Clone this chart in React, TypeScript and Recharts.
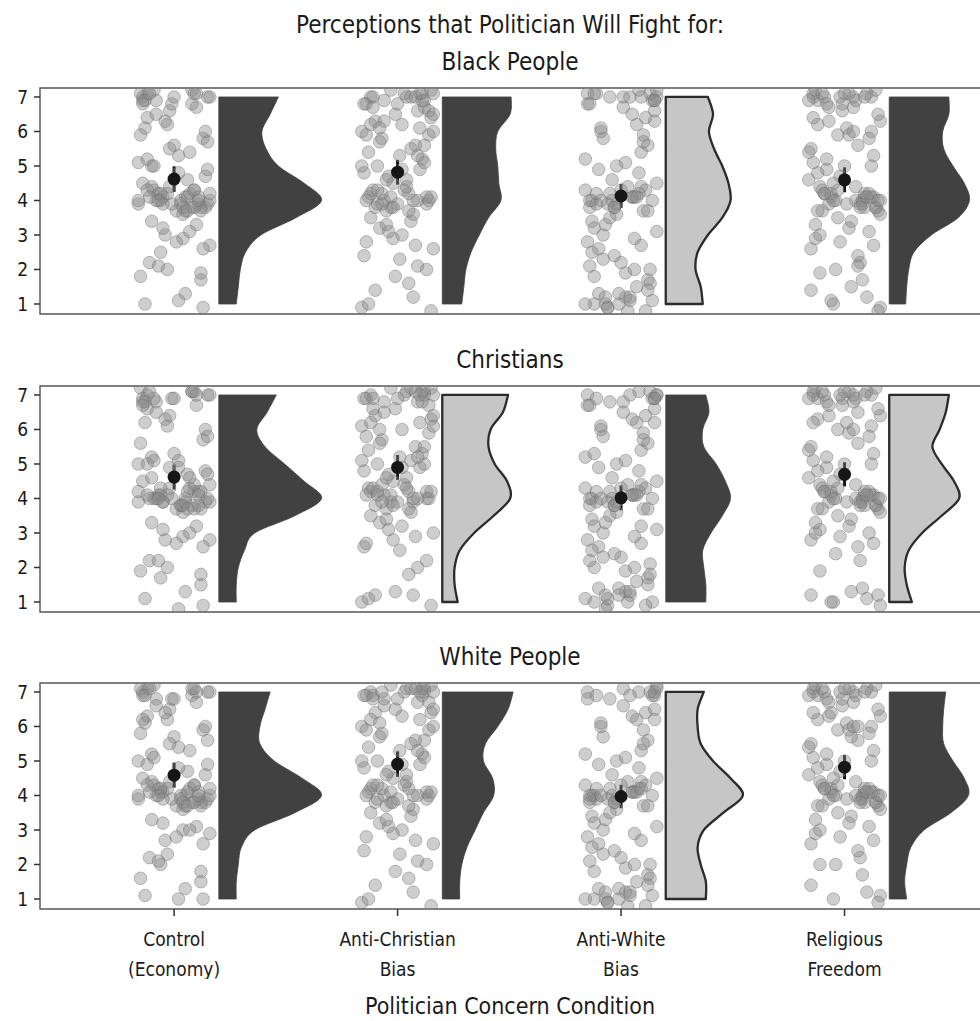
import React from 'react';
import { ComposedChart, Scatter, XAxis, YAxis, ReferenceArea, ErrorBar } from 'recharts';

const FONT = "'Liberation Sans Narrow', 'DejaVu Sans Condensed', 'Liberation Sans', sans-serif";

const conditionLabels = [
  ['Control', '(Economy)'],
  ['Anti-Christian', 'Bias'],
  ['Anti-White', 'Bias'],
  ['Religious', 'Freedom'],
];
const conditionPositions = [1, 2, 3, 4];
const targetGroups = ['Black People', 'Christians', 'White People'];
const yTicks = [1, 2, 3, 4, 5, 6, 7];
const densityLevels = [7, 6.5, 6, 5.5, 5, 4.5, 4, 3.5, 3, 2.5, 2, 1.5, 1];

// condition order: Control, Anti-Christian, Anti-White, Religious Freedom
const blackMeans = [4.62, 4.82, 4.13, 4.6];
const christianMeans = [4.62, 4.9, 4.02, 4.7];
const whiteMeans = [4.59, 4.91, 3.97, 4.82];
const blackSE = [0.37, 0.36, 0.35, 0.36];
const christianSE = [0.36, 0.36, 0.36, 0.35];
const whiteSE = [0.36, 0.37, 0.34, 0.35];

// light-filled half violins
const blackHighlight = [false, false, true, false];
const christianHighlight = [false, true, false, true];
const whiteHighlight = [false, false, true, false];

// relative density at densityLevels (peak = 1)
const blackDensity = [
  [0.58, 0.5, 0.42, 0.46, 0.58, 0.83, 1.0, 0.75, 0.41, 0.26, 0.21, 0.19, 0.17],
  [0.67, 0.66, 0.54, 0.52, 0.54, 0.55, 0.57, 0.45, 0.36, 0.28, 0.23, 0.21, 0.19],
  [0.41, 0.46, 0.42, 0.47, 0.55, 0.61, 0.63, 0.55, 0.41, 0.31, 0.29, 0.34, 0.36],
  [0.58, 0.58, 0.52, 0.53, 0.62, 0.73, 0.78, 0.67, 0.41, 0.24, 0.19, 0.17, 0.16],
];
const christianDensity = [
  [0.56, 0.47, 0.37, 0.45, 0.64, 0.83, 1.0, 0.74, 0.35, 0.25, 0.19, 0.17, 0.17],
  [0.64, 0.59, 0.47, 0.45, 0.51, 0.63, 0.66, 0.5, 0.31, 0.17, 0.12, 0.12, 0.15],
  [0.39, 0.42, 0.36, 0.37, 0.49, 0.58, 0.63, 0.55, 0.44, 0.36, 0.37, 0.39, 0.39],
  [0.58, 0.55, 0.49, 0.42, 0.51, 0.63, 0.68, 0.51, 0.32, 0.19, 0.15, 0.17, 0.22],
];
const whiteDensity = [
  [0.5, 0.45, 0.4, 0.4, 0.54, 0.81, 1.0, 0.74, 0.35, 0.22, 0.19, 0.17, 0.17],
  [0.69, 0.64, 0.54, 0.42, 0.4, 0.49, 0.5, 0.4, 0.32, 0.24, 0.19, 0.17, 0.17],
  [0.37, 0.31, 0.31, 0.34, 0.46, 0.63, 0.75, 0.56, 0.37, 0.31, 0.34, 0.39, 0.39],
  [0.55, 0.53, 0.52, 0.53, 0.62, 0.73, 0.77, 0.6, 0.34, 0.21, 0.17, 0.15, 0.17],
];

// horizontal jitter of the raw ratings around each condition
const jitterX = [
  -0.12, 0.05, 0.14, -0.03, 0.09, -0.15, 0.02, 0.11, -0.08, 0.16,
  -0.06, 0.07, -0.14, 0.01, 0.13, -0.1, 0.04, -0.02, 0.15, -0.13,
  0.08, -0.05, 0.12, -0.16, 0.03, 0.1, -0.09, 0.06, -0.11, 0.14,
  -0.01, 0.09, -0.15, 0.0, 0.12, -0.07, 0.05, -0.12, 0.16, -0.04,
  0.02, -0.14, 0.11, -0.06, 0.08, -0.1, 0.15, -0.02, 0.04, -0.13,
  0.13, -0.08, 0.07, -0.16, 0.1, -0.03, 0.01, -0.11, 0.14, -0.05,
  0.06, -0.15, 0.09, -0.01, 0.12, -0.09, 0.03, -0.12, 0.16, -0.07,
  0.11, -0.04, 0.05, -0.14, 0.08, -0.1, 0.15, -0.06, 0.02, -0.13,
  0.04, -0.11, 0.13, -0.02, 0.1, -0.16, 0.07, -0.08, 0.15, -0.05,
  0.0, -0.12, 0.12, -0.09, 0.06, -0.14, 0.16, -0.03, 0.09, -0.07,
];

const blackRatings = [
  [7.1, 4.1, 3.8, 6.2, 4.3, 1.8, 5.3, 3.9, 6.9, 2.7, 4.0, 4.2, 7.0, 3.7, 5.8, 4.4, 2.9, 6.6, 3.9, 1.0,
   6.8, 4.1, 3.8, 5.1, 4.0, 3.3, 7.2, 4.6, 2.2, 6.0, 3.9, 4.3, 7.1, 5.6, 3.7, 4.2, 1.3, 6.4, 4.0, 3.0,
   4.8, 6.9, 4.1, 2.5, 3.8, 5.0, 7.0, 4.4, 3.6, 6.1, 0.9, 4.0, 5.4, 3.9, 6.7, 4.2, 2.8, 7.1, 4.7, 3.2,
   4.1, 5.9, 3.8, 6.8, 1.7, 4.3, 3.9, 5.2, 7.0, 2.1, 4.0, 6.3, 3.7, 4.5, 7.2, 3.4, 5.7, 4.2, 1.1, 6.9,
   3.8, 4.1, 2.6, 5.5, 7.1, 4.0, 3.1, 6.5, 4.9, 3.9, 7.0, 4.3, 1.9, 5.0, 3.7, 6.8, 4.2, 2.0, 7.1, 4.0],
  [7.0, 4.2, 5.9, 3.8, 6.6, 2.4, 4.9, 7.1, 3.2, 6.0, 4.0, 1.2, 6.8, 5.3, 3.9, 6.3, 4.6, 2.9, 7.2, 4.1,
   5.6, 3.7, 6.9, 0.9, 4.3, 6.1, 5.0, 3.4, 7.0, 4.0, 6.5, 2.1, 4.8, 3.9, 6.7, 5.8, 1.6, 4.2, 7.1, 3.1,
   6.2, 4.0, 5.2, 6.9, 2.7, 3.8, 6.4, 4.5, 7.0, 1.0, 4.1, 5.7, 3.6, 6.0, 4.9, 7.2, 2.3, 4.3, 6.6, 3.3,
   5.5, 6.8, 4.0, 1.8, 5.1, 3.9, 7.1, 6.2, 2.6, 4.2, 6.9, 4.7, 3.7, 5.9, 7.0, 1.4, 4.1, 6.3, 3.0, 5.4,
   4.4, 6.7, 2.0, 3.8, 7.1, 5.0, 4.0, 6.1, 0.8, 4.6, 6.8, 3.5, 5.6, 4.3, 7.0, 2.8, 6.5, 4.1, 5.3, 3.9],
  [1.0, 4.1, 6.9, 3.8, 2.7, 7.1, 1.2, 4.3, 5.8, 3.1, 0.9, 6.2, 4.0, 7.0, 2.0, 4.9, 1.1, 3.9, 6.6, 3.4,
   7.2, 4.2, 1.7, 5.2, 0.8, 3.7, 6.0, 2.9, 7.1, 4.0, 1.3, 4.4, 6.8, 2.2, 5.6, 1.0, 4.1, 3.2, 7.0, 4.6,
   1.9, 3.8, 6.4, 0.9, 4.2, 2.6, 6.9, 5.0, 1.2, 4.0, 7.1, 3.0, 1.5, 4.3, 5.9, 2.4, 6.7, 3.9, 1.1, 7.0,
   4.1, 2.8, 5.4, 1.0, 3.7, 6.1, 4.4, 1.8, 7.2, 3.3, 0.8, 4.0, 6.5, 2.1, 4.8, 1.3, 6.9, 3.9, 5.1, 2.5,
   7.0, 4.2, 1.6, 3.6, 5.7, 1.0, 4.1, 2.3, 6.3, 3.5, 4.3, 7.1, 1.4, 4.0, 2.0, 6.8, 4.5, 3.8, 7.0, 1.2],
  [6.9, 4.0, 3.8, 5.9, 4.2, 1.4, 7.1, 3.1, 4.9, 6.3, 4.1, 2.2, 7.0, 3.9, 5.3, 4.3, 6.7, 2.8, 3.7, 7.2,
   4.0, 1.0, 6.0, 4.6, 3.4, 7.1, 4.2, 5.6, 1.9, 3.8, 6.8, 4.1, 2.6, 5.0, 7.0, 3.9, 4.4, 6.2, 0.9, 4.0,
   3.2, 7.1, 5.8, 4.2, 1.7, 3.7, 6.5, 4.7, 7.0, 2.9, 4.1, 5.2, 3.9, 6.9, 1.2, 4.3, 6.1, 3.0, 7.2, 4.0,
   2.4, 5.5, 3.8, 6.6, 4.1, 7.0, 1.5, 4.8, 3.6, 6.3, 4.2, 2.0, 6.9, 5.1, 3.9, 7.1, 4.0, 1.1, 5.9, 3.3,
   6.0, 4.4, 2.7, 7.0, 4.1, 5.4, 3.8, 6.8, 0.8, 4.5, 7.1, 3.7, 5.0, 4.2, 2.1, 6.4, 4.0, 3.5, 7.0, 6.7],
];

const christianRatings = [
  [7.0, 4.0, 3.9, 6.1, 4.2, 1.9, 5.1, 3.8, 6.8, 2.8, 4.1, 4.3, 6.9, 3.7, 5.7, 4.6, 2.9, 6.4, 4.0, 1.1,
   7.1, 3.9, 4.2, 5.0, 3.8, 3.2, 6.9, 4.7, 2.2, 6.0, 4.0, 4.4, 7.2, 5.3, 3.7, 4.1, 1.3, 6.6, 3.9, 2.8,
   4.9, 6.8, 4.2, 1.7, 3.8, 5.2, 7.0, 4.3, 3.6, 6.2, 0.9, 4.0, 4.6, 3.9, 6.7, 4.1, 2.7, 7.1, 4.8, 3.1,
   4.2, 5.6, 3.7, 6.9, 1.8, 4.0, 3.8, 5.0, 7.0, 2.2, 4.1, 6.3, 3.9, 4.5, 7.1, 3.3, 5.8, 4.3, 0.8, 6.8,
   3.8, 4.0, 2.6, 4.9, 7.0, 4.2, 3.0, 6.5, 4.7, 3.9, 6.9, 4.1, 1.5, 5.1, 3.7, 6.7, 4.4, 2.0, 7.1, 4.0],
  [7.0, 4.2, 5.9, 3.9, 6.8, 2.6, 4.9, 7.1, 3.3, 6.1, 4.1, 1.2, 6.9, 5.2, 4.0, 6.4, 4.6, 2.8, 7.2, 4.3,
   5.5, 3.7, 7.0, 1.0, 4.4, 6.2, 5.0, 3.6, 6.9, 4.0, 6.6, 2.0, 4.8, 3.9, 7.1, 5.7, 1.8, 4.2, 7.0, 3.1,
   6.0, 4.1, 5.3, 6.8, 2.9, 3.8, 6.3, 4.5, 7.1, 1.1, 4.2, 5.6, 3.9, 6.1, 4.9, 7.2, 2.5, 4.3, 6.7, 3.4,
   5.1, 6.9, 4.0, 1.3, 5.0, 4.1, 7.0, 6.2, 3.0, 4.4, 6.8, 4.7, 3.7, 5.8, 7.1, 1.2, 4.2, 6.5, 3.2, 5.4,
   4.3, 6.6, 2.2, 3.8, 7.0, 5.1, 4.0, 6.0, 0.9, 4.6, 6.9, 3.5, 5.5, 4.2, 7.2, 2.7, 6.4, 4.1, 5.2, 3.9],
  [1.0, 4.1, 6.9, 3.8, 2.7, 7.0, 1.3, 4.3, 5.8, 3.1, 0.9, 6.2, 4.0, 6.8, 2.1, 4.9, 1.2, 3.9, 6.6, 3.4,
   7.1, 4.2, 1.7, 5.2, 1.0, 3.7, 6.0, 2.9, 6.9, 4.0, 1.4, 4.4, 6.7, 2.3, 5.6, 0.8, 4.1, 3.2, 7.0, 4.6,
   1.9, 3.8, 6.4, 1.1, 4.2, 2.6, 6.9, 5.0, 1.3, 4.0, 7.1, 3.0, 1.6, 4.3, 5.9, 2.4, 6.5, 3.9, 1.0, 6.8,
   4.1, 2.8, 5.4, 1.2, 3.7, 6.1, 4.4, 2.0, 7.0, 3.3, 0.9, 4.0, 6.3, 2.2, 4.8, 1.4, 6.9, 3.9, 5.1, 2.5,
   7.0, 4.2, 1.8, 3.6, 5.7, 1.1, 4.1, 2.3, 6.2, 3.5, 4.3, 5.3, 1.5, 4.0, 2.0, 6.7, 4.5, 3.8, 3.2, 1.2],
  [6.9, 4.0, 3.8, 6.0, 4.2, 1.2, 7.1, 3.0, 4.9, 6.4, 4.1, 2.2, 7.0, 3.9, 5.3, 4.3, 6.8, 2.9, 3.7, 7.2,
   4.0, 1.0, 6.1, 4.6, 3.4, 7.1, 4.2, 5.6, 1.9, 3.8, 6.9, 4.1, 2.8, 5.0, 7.0, 3.9, 4.4, 6.3, 0.9, 4.0,
   3.2, 7.1, 5.8, 4.2, 1.4, 3.7, 6.6, 4.7, 7.0, 3.0, 4.1, 5.2, 3.9, 6.9, 1.1, 4.3, 6.2, 3.1, 7.2, 4.0,
   2.6, 5.5, 3.8, 6.7, 4.1, 7.0, 1.3, 4.8, 3.6, 6.4, 4.2, 2.4, 6.9, 5.1, 3.9, 7.1, 4.0, 1.0, 5.9, 3.3,
   6.0, 4.4, 2.7, 7.0, 4.1, 5.4, 3.8, 6.8, 1.2, 4.5, 7.1, 3.7, 5.0, 4.2, 6.5, 6.2, 4.0, 3.5, 7.0, 6.7],
];

const whiteRatings = [
  [7.1, 4.0, 3.8, 6.2, 4.3, 1.6, 5.4, 3.9, 6.8, 2.9, 4.1, 4.2, 7.0, 3.7, 5.9, 4.4, 3.0, 6.5, 3.9, 1.1,
   6.9, 4.1, 3.8, 5.0, 4.0, 3.1, 7.2, 4.7, 2.2, 6.0, 3.9, 4.3, 7.1, 5.7, 3.7, 4.2, 1.3, 6.3, 4.0, 2.7,
   4.8, 6.9, 4.1, 2.0, 3.8, 5.2, 7.0, 4.4, 3.6, 6.1, 1.0, 4.0, 5.3, 3.9, 6.7, 4.2, 2.8, 7.1, 4.6, 3.2,
   4.1, 5.8, 3.8, 6.8, 1.5, 4.3, 3.9, 4.9, 7.0, 2.1, 4.0, 6.4, 3.7, 4.5, 7.1, 3.3, 5.6, 4.2, 1.0, 6.9,
   3.8, 4.1, 2.6, 5.5, 7.0, 4.0, 3.0, 6.6, 4.9, 3.9, 6.8, 4.3, 1.8, 5.1, 3.7, 6.2, 4.2, 2.3, 7.1, 4.0],
  [7.0, 4.2, 5.9, 3.8, 6.7, 2.4, 4.9, 7.1, 3.2, 6.0, 4.0, 1.2, 6.9, 5.3, 3.9, 6.4, 4.6, 2.9, 7.2, 4.1,
   5.6, 3.7, 7.0, 0.9, 4.3, 6.2, 5.0, 3.4, 6.9, 4.0, 6.5, 2.1, 4.8, 3.9, 7.1, 5.8, 1.6, 4.2, 7.0, 3.1,
   6.3, 4.0, 5.2, 6.8, 2.7, 3.8, 6.4, 4.5, 7.1, 1.0, 4.1, 5.7, 3.6, 6.0, 4.9, 7.2, 2.3, 4.3, 6.7, 3.3,
   5.5, 6.9, 4.0, 1.8, 5.1, 3.9, 7.0, 6.2, 2.6, 4.2, 6.9, 4.7, 3.7, 5.9, 7.1, 1.4, 4.1, 6.6, 3.0, 5.4,
   4.4, 6.8, 2.0, 3.8, 7.0, 5.0, 4.0, 6.1, 0.8, 4.6, 6.8, 3.5, 5.6, 4.3, 7.1, 2.8, 6.5, 4.1, 5.3, 7.0],
  [1.0, 4.1, 6.9, 3.8, 2.7, 7.0, 1.2, 4.3, 5.7, 3.1, 0.9, 6.2, 4.0, 7.1, 2.0, 4.9, 1.1, 3.9, 6.5, 3.4,
   7.0, 4.2, 1.7, 5.2, 0.8, 3.7, 6.0, 2.9, 6.9, 4.0, 1.3, 4.4, 6.8, 2.2, 5.6, 1.0, 4.1, 3.2, 7.1, 4.6,
   1.9, 3.8, 6.4, 0.9, 4.2, 2.6, 6.9, 5.0, 1.2, 4.0, 7.0, 3.0, 1.5, 4.3, 5.9, 2.4, 6.6, 3.9, 1.1, 6.8,
   4.1, 2.8, 5.3, 1.0, 3.7, 6.1, 4.4, 1.8, 7.2, 3.3, 0.8, 4.0, 6.3, 2.1, 4.8, 1.3, 7.0, 3.9, 5.1, 2.5,
   6.9, 4.2, 1.6, 3.6, 5.5, 1.0, 4.1, 2.3, 6.2, 3.5, 4.3, 4.0, 1.4, 4.0, 2.0, 3.9, 4.5, 3.8, 4.2, 1.2],
  [6.9, 4.0, 3.8, 5.9, 4.2, 1.4, 7.1, 3.1, 4.9, 6.3, 4.1, 2.2, 7.0, 3.9, 5.3, 4.3, 6.7, 2.8, 3.7, 7.2,
   4.0, 1.0, 6.0, 4.6, 3.4, 7.1, 4.2, 5.6, 2.0, 3.8, 6.8, 4.1, 2.6, 5.0, 7.0, 3.9, 4.4, 6.2, 1.1, 4.0,
   3.2, 7.1, 5.8, 4.2, 1.7, 3.7, 6.5, 4.7, 7.0, 2.9, 4.1, 5.2, 3.9, 6.9, 1.2, 4.3, 6.1, 3.0, 7.2, 4.0,
   2.4, 5.5, 3.8, 6.6, 4.1, 7.0, 5.7, 4.8, 3.6, 6.3, 4.2, 2.0, 6.9, 5.1, 3.9, 7.1, 4.0, 6.4, 5.9, 3.3,
   6.0, 4.4, 2.7, 7.0, 4.1, 5.4, 3.8, 6.8, 0.9, 4.5, 7.1, 3.7, 5.0, 4.2, 6.0, 6.4, 4.0, 3.5, 7.0, 6.7],
];

const Y_DOMAIN = [0.71, 7.26];
const X_DOMAIN = [0.4, 4.633];
const VIOLIN_GAP = 0.2;
const VIOLIN_WIDTH = 0.46;

// right edge (top->bottom) is smoothed, then back along the flat left edge
function violinPath(points: { x: number; y: number }[]) {
  const n = densityLevels.length;
  const edge = points.slice(0, n);
  const lb = points[n];
  const lt = points[n + 1];
  let d = `M${lt.x},${lt.y} L${edge[0].x},${edge[0].y}`;
  for (let i = 0; i < n - 1; i++) {
    const p0 = edge[Math.max(i - 1, 0)];
    const p1 = edge[i];
    const p2 = edge[i + 1];
    const p3 = edge[Math.min(i + 2, n - 1)];
    const c1x = p1.x + (p2.x - p0.x) / 6;
    const c1y = p1.y + (p2.y - p0.y) / 6;
    const c2x = p2.x - (p3.x - p1.x) / 6;
    const c2y = p2.y - (p3.y - p1.y) / 6;
    d += ` C${c1x},${c1y} ${c2x},${c2y} ${p2.x},${p2.y}`;
  }
  d += ` L${lb.x},${lb.y} Z`;
  return d;
}

const XTick = (props: any) => {
  const { x, y, payload } = props;
  const lines = conditionLabels[conditionPositions.indexOf(payload.value)] || ['', ''];
  return (
    <text x={x} y={y} textAnchor="middle" fill="#1a1a1a" fontSize={19} fontFamily={FONT}>
      <tspan x={x} dy={28}>{lines[0]}</tspan>
      <tspan x={x} dy={30}>{lines[1]}</tspan>
    </text>
  );
};

interface PanelProps {
  means: number[];
  se: number[];
  density: number[][];
  ratings: number[][];
  highlight: boolean[];
  showAxis: boolean;
}

function Panel({ means, se, density, ratings, highlight, showAxis }: PanelProps) {
  const axisHeight = showAxis ? 70 : 0;
  return (
    <ComposedChart
      width={986}
      height={4 + 226 + (showAxis ? axisHeight : 4)}
      margin={{ top: 4, right: 0, bottom: showAxis ? 0 : 4, left: 0 }}
    >
      <XAxis
        type="number"
        dataKey="x"
        domain={X_DOMAIN}
        ticks={conditionPositions}
        interval={0}
        allowDataOverflow
        hide={!showAxis}
        height={axisHeight}
        axisLine={false}
        tickSize={7}
        tickMargin={2}
        tickLine={{ stroke: '#333', strokeWidth: 1.5 }}
        tick={<XTick />}
      />
      <YAxis
        type="number"
        dataKey="y"
        domain={Y_DOMAIN}
        ticks={yTicks}
        interval={0}
        allowDataOverflow
        width={40}
        axisLine={false}
        tickSize={6}
        tickMargin={6}
        tickLine={{ stroke: '#333', strokeWidth: 1.5 }}
        tick={{ fill: '#1a1a1a', fontSize: 19, fontFamily: FONT }}
      />
      {conditionPositions.map((c, i) => (
        <Scatter
          key={`pts-${i}`}
          data={ratings[i].map((y, k) => ({ x: c + jitterX[k % jitterX.length], y }))}
          isAnimationActive={false}
          shape={(p: any) => (
            <circle cx={p.cx} cy={p.cy} r={6.3} fill="#8a8a8a" fillOpacity={0.42} stroke="#6a6a6a" strokeOpacity={0.4} strokeWidth={1} />
          )}
        />
      ))}
      {conditionPositions.map((c, i) => (
        <Scatter
          key={`vio-${i}`}
          data={[
            ...densityLevels.map((lvl, k) => ({ x: c + VIOLIN_GAP + density[i][k] * VIOLIN_WIDTH, y: lvl })),
            { x: c + VIOLIN_GAP, y: 1 },
            { x: c + VIOLIN_GAP, y: 7 },
          ]}
          isAnimationActive={false}
          lineType="joint"
          shape={() => <g />}
          line={(lp: any) => (
            <path
              d={violinPath(lp.points)}
              fill={highlight[i] ? '#c6c6c6' : '#414141'}
              stroke={highlight[i] ? '#2b2b2b' : '#414141'}
              strokeWidth={highlight[i] ? 2.3 : 0.8}
              strokeLinejoin="round"
            />
          )}
        />
      ))}
      <Scatter
        data={conditionPositions.map((c, i) => ({ x: c, y: means[i], err: se[i] }))}
        isAnimationActive={false}
        shape={(p: any) => <circle cx={p.cx} cy={p.cy} r={6.5} fill="#161616" />}
      >
        <ErrorBar dataKey="err" direction="y" width={0} stroke="#161616" strokeWidth={3} />
      </Scatter>
      <ReferenceArea
        x1={X_DOMAIN[0]}
        x2={X_DOMAIN[1]}
        y1={Y_DOMAIN[0]}
        y2={Y_DOMAIN[1]}
        fill="none"
        stroke="#555"
        strokeWidth={1.4}
        ifOverflow="visible"
      />
    </ComposedChart>
  );
}

const titleStyle = (top: number, size: number): React.CSSProperties => ({
  position: 'absolute',
  top,
  left: 40,
  width: 940,
  textAlign: 'center',
  fontSize: size,
  lineHeight: `${size + 6}px`,
  fontFamily: FONT,
  color: '#1a1a1a',
});

export default function App() {
  const panels = [
    { top: 88, means: blackMeans, se: blackSE, density: blackDensity, ratings: blackRatings, highlight: blackHighlight },
    { top: 386, means: christianMeans, se: christianSE, density: christianDensity, ratings: christianRatings, highlight: christianHighlight },
    { top: 683, means: whiteMeans, se: whiteSE, density: whiteDensity, ratings: whiteRatings, highlight: whiteHighlight },
  ];
  return (
    <div style={{ position: 'relative', width: 980, height: 1021, overflow: 'hidden', background: '#fff' }}>
      <style>{'body{margin:0}'}</style>
      <div style={titleStyle(10, 24)}>Perceptions that Politician Will Fight for:</div>
      {panels.map((p, i) => (
        <React.Fragment key={i}>
          <div style={titleStyle(p.top - 41, 24)}>{targetGroups[i]}</div>
          <div style={{ position: 'absolute', top: p.top - 4, left: 0 }}>
            <Panel
              means={p.means}
              se={p.se}
              density={p.density}
              ratings={p.ratings}
              highlight={p.highlight}
              showAxis={i === panels.length - 1}
            />
          </div>
        </React.Fragment>
      ))}
      <div style={titleStyle(992, 23)}>Politician Concern Condition</div>
    </div>
  );
}
